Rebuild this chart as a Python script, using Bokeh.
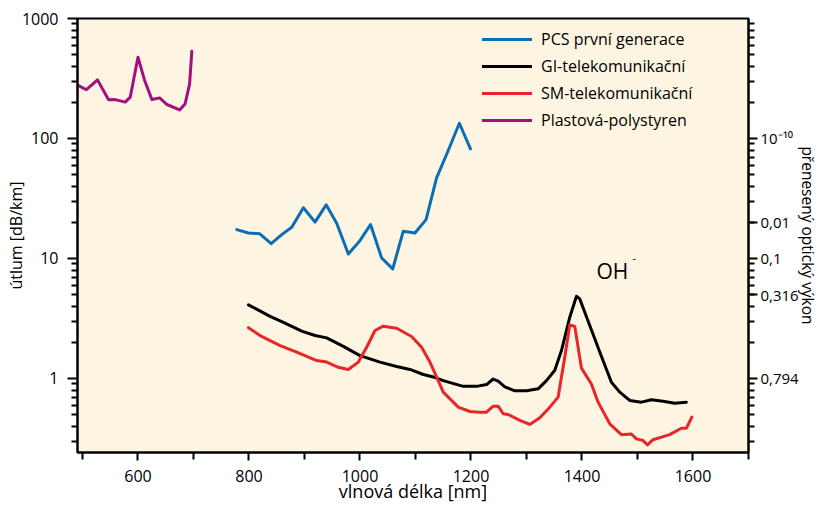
from bokeh.plotting import figure
from bokeh.models import (Range1d, LogAxis, FixedTicker, Legend, LegendItem,
                          BasicTickFormatter)
from bokeh.core.properties import value
from bokeh.embed import file_html
from bokeh.resources import INLINE

FONT = "Open Sans"

# ---- data (wavelength nm, attenuation dB/km) ----
pcs_x = [778, 799, 819, 840, 859, 877, 898, 919, 939, 958, 979, 999, 1019, 1039,
         1059, 1078, 1099, 1119, 1138, 1159, 1179, 1199]
pcs_y = [17.4, 16.3, 16.1, 13.3, 15.8, 18.2, 26.5, 20.1, 28.0, 19.7, 10.9, 13.9,
         19.2, 10.1, 8.2, 16.9, 16.3, 21.1, 47.0, 79.4, 134, 82]

gi_x = [799, 838, 862, 895, 919, 940, 970, 1000, 1036, 1066, 1090, 1114, 1132, 1150,
        1186, 1210, 1228, 1240, 1249, 1261, 1279, 1300, 1321, 1336, 1351, 1363, 1378,
        1390, 1396, 1414, 1432, 1453, 1468, 1486, 1507, 1525, 1546, 1567, 1588]
gi_y = [4.11, 3.29, 2.94, 2.48, 2.28, 2.18, 1.85, 1.55, 1.37, 1.26, 1.19, 1.08, 1.03,
        0.96, 0.86, 0.86, 0.89, 0.99, 0.95, 0.85, 0.79, 0.79, 0.82, 0.96, 1.17, 1.71,
        3.24, 4.85, 4.6, 2.76, 1.66, 0.93, 0.77, 0.656, 0.635, 0.664, 0.647, 0.623, 0.635]

sm_x = [799, 820, 856, 886, 922, 940, 961, 979, 997, 1012, 1027, 1042, 1066, 1093,
        1111, 1126, 1141, 1150, 1177, 1198, 1216, 1228, 1240, 1249, 1258, 1267, 1288,
        1306, 1324, 1342, 1357, 1369, 1378, 1387, 1399, 1417, 1429, 1450, 1471, 1489,
        1498, 1510, 1518, 1528, 1558, 1579, 1588, 1598]
sm_y = [2.65, 2.28, 1.88, 1.66, 1.41, 1.37, 1.24, 1.19, 1.37, 1.82, 2.51, 2.73, 2.62,
        2.24, 1.82, 1.37, 0.96, 0.77, 0.577, 0.531, 0.524, 0.524, 0.588, 0.588, 0.508,
        0.501, 0.447, 0.414, 0.47, 0.577, 0.70, 1.51, 2.80, 2.71, 1.22, 0.90, 0.635,
        0.419, 0.34, 0.345, 0.314, 0.304, 0.28, 0.309, 0.341, 0.385, 0.385, 0.476]

pl_x = [493, 507, 527, 547, 559, 577, 586, 600, 612, 625, 639, 652, 675, 685, 693, 697]
pl_y = [276, 255, 308, 210, 211, 201, 221, 476, 304, 211, 218, 192, 173, 195, 285, 534]

series_names = ["PCS první generace", "GI-telekomunikační", "SM-telekomunikační",
                "Plastová-polystyren"]
series_colors = ["#0B6DB3", "#000000", "#E8262A", "#A3107E"]

x_major = [600, 800, 1000, 1200, 1400, 1600]
x_minor = [500, 700, 900, 1100, 1300, 1500, 1700]
y_major = [1, 10, 100, 1000]
y_minor = [0.3, 0.4, 0.5, 0.6, 0.7, 0.8, 0.9] + list(range(2, 10)) + \
          list(range(20, 100, 10)) + list(range(200, 1000, 100))
right_ticks = [1, 5, 10, 20, 100]
right_labels = ["0,794", "0,316", "0,1", "0,01", "10⁻¹⁰"]

p = figure(width=824, height=508, output_backend="svg", toolbar_location=None,
           y_axis_type="log", x_range=Range1d(491, 1700), y_range=Range1d(0.2417, 1000),
           min_border_left=77, min_border_right=76, min_border_top=18, min_border_bottom=56,
           background_fill_color="#FDF5E1", border_fill_color="white")
p.outline_line_color = "black"
p.outline_line_width = 2
p.xgrid.visible = False
p.ygrid.visible = False

renderers = []
for xs, ys, c in zip([pcs_x, gi_x, sm_x, pl_x], [pcs_y, gi_y, sm_y, pl_y], series_colors):
    r = p.line(xs, ys, line_color=c, line_width=3, line_join="round", line_cap="round")
    renderers.append(r)

# OH- annotation
p.text(x=[1426], y=[7.8], text=["OH"], text_font=value(FONT), text_font_size="21px",
       text_color="black", text_baseline="alphabetic", text_align="left")
p.text(x=[1491], y=[10.0], text=["-"], text_font=value(FONT), text_font_size="11px",
       text_color="black", text_baseline="middle", text_align="left")

# axes styling
def style_axis(ax):
    ax.axis_line_color = "black"
    ax.axis_line_width = 2
    ax.major_tick_line_color = "black"
    ax.minor_tick_line_color = "black"
    ax.major_tick_line_width = 2
    ax.minor_tick_line_width = 2
    ax.major_label_text_font = FONT
    ax.major_label_text_font_size = "16px"
    ax.major_label_text_color = "black"
    ax.axis_label_text_font = FONT
    ax.axis_label_text_font_size = "16px"
    ax.axis_label_text_font_style = "normal"
    ax.axis_label_text_color = "black"

xa = p.xaxis[0]
style_axis(xa)
xa.ticker = FixedTicker(ticks=x_major, minor_ticks=x_minor)
xa.major_tick_out = 8
xa.major_tick_in = 0
xa.minor_tick_out = 7
xa.minor_tick_in = 0
xa.major_label_standoff = 9
xa.axis_label = "vlnová délka [nm]"
xa.axis_label_text_font_size = "18px"
xa.axis_label_standoff = -6

ya = p.yaxis[0]
style_axis(ya)
ya.ticker = FixedTicker(ticks=y_major, minor_ticks=y_minor)
ya.formatter = BasicTickFormatter()
ya.major_label_overrides = {1: "1", 10: "10", 100: "100", 1000: "1000"}
ya.major_tick_out = 10
ya.major_tick_in = 0
ya.minor_tick_out = 6
ya.minor_tick_in = 0
ya.major_label_standoff = 9
ya.axis_label = "útlum [dB/km]"
ya.axis_label_standoff = -8

ra = LogAxis(ticker=FixedTicker(ticks=right_ticks, minor_ticks=y_minor))
style_axis(ra)
ra.major_label_overrides = {t: l for t, l in zip(right_ticks, right_labels)}
ra.major_label_text_font_size = "15px"
ra.major_tick_out = 9
ra.major_tick_in = 0
ra.minor_tick_out = 6
ra.minor_tick_in = 0
ra.major_label_standoff = 3
ra.axis_label = "přenesený optický výkon"
ra.axis_label_text_font_size = "15.5px"
ra.axis_label_text_line_height = 1.0
ra.axis_label_standoff = -5
p.add_layout(ra, "right")

legend = Legend(items=[LegendItem(label=n, renderers=[r]) for n, r in zip(series_names, renderers)],
                location=(405, 321), orientation="vertical")
legend.background_fill_alpha = 0
legend.border_line_alpha = 0
legend.padding = 0
legend.margin = 0
legend.spacing = 5
legend.glyph_width = 50
legend.glyph_height = 20
legend.label_standoff = 9
legend.label_text_font = FONT
legend.label_text_font_size = "16px"
legend.label_text_color = "black"
p.add_layout(legend)

open("out.html", "w").write(file_html(p, INLINE))
